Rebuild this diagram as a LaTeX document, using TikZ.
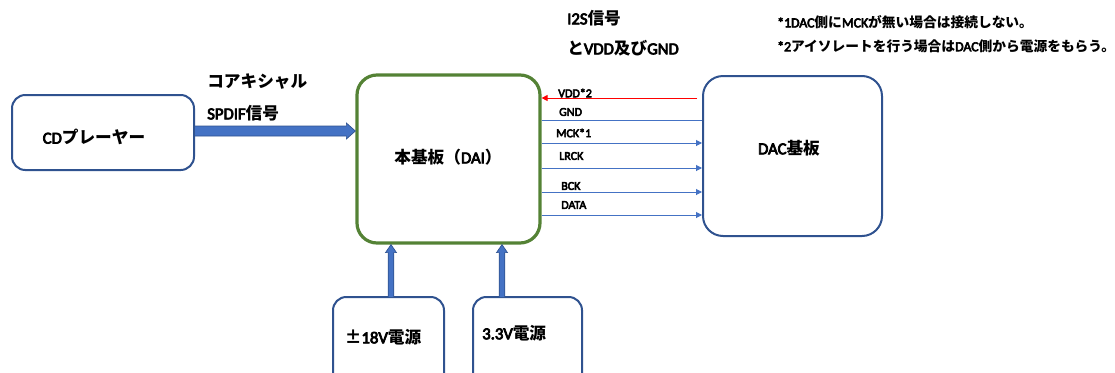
\documentclass[tikz,border=0pt]{standalone}
\usepackage{fontspec}
\setmainfont{Carlito}[BoldFont=Carlito, BoldFeatures={FakeBold=4.5}]
\newfontfamily\jp{Noto Sans CJK JP}
\usetikzlibrary{arrows.meta,calc,fit}
\definecolor{navy}{HTML}{2F528F}
\definecolor{ablue}{HTML}{4472C4}
\definecolor{dgreen}{HTML}{548235}
\begin{document}
\begin{tikzpicture}[x=0.75pt,y=-0.75pt,
 box/.style={draw=navy, line width=1.5pt, rounded corners=10pt, inner sep=0pt},
 greenbox/.style={draw=dgreen, line width=2.4pt, rounded corners=15pt, inner sep=0pt},
 lbl/.style={font=\fontsize{12.5}{15}\selectfont\bfseries, inner sep=0pt},
 sig/.style={font=\fontsize{9}{10}\selectfont\bfseries, anchor=west, inner sep=0pt},
 note/.style={font=\fontsize{10.3}{12}\selectfont\bfseries, anchor=west, inner sep=0pt},
 sline/.style={draw=ablue, line width=0.75pt},
 stip/.style={-{Triangle[length=4.5pt,width=4.5pt]}},
 fat/.style={fill=ablue, draw=navy, line width=0.5pt}]
\useasboundingbox (0,0) rectangle (1115,372);

% boxes
\node[box, fit={(12,95) (194,170)}] (cd) {};
\node[greenbox, fit={(357,75) (540,243)}] (dai) {};
\node[box, rounded corners=15pt, fit={(703,76) (882,236)}] (dac) {};
\node[box, fit={(333,297) (444,395)}] (p18) {};
\node[box, fit={(473,297) (582,395)}] (p33) {};

% box labels
\node[lbl] (cdl) at (94,137) {CD{\jp プレーヤー}};
\node[lbl] (dail) at (448,157) {{\jp 本基板（}DAI{\jp ）}};
\node[lbl] (dacl) at (789,148) {DAC{\jp 基板}};
\node[lbl] (p18l) at (383,337) {{\jp ±}18V{\jp 電源}};
\node[lbl, anchor=west] (p33l) at (482,333) {3.3V{\jp 電源}};

% SPDIF fat arrow
\coordinate (sa) at ($(cd.east)+(0,-1.5)$);
\coordinate (sb) at (sa -| dai.west);
\draw[fat] ($(sa)+(0,-5)$) -- ($(sb)+(-9,-5)$) -- ($(sb)+(-9,-8)$) -- (sb)
  -- ($(sb)+(-9,8)$) -- ($(sb)+(-9,5)$) -- ($(sa)+(0,5)$);
\node[lbl, anchor=west] (coax) at (207,82) {{\jp コアキシャル}};
\node[lbl, anchor=west] (spdif) at (207,113) {SPDIF{\jp 信号}};

% vertical power arrows
\foreach \b/\xx in {p18/391, p33/502}{
  \coordinate (va) at (\xx,297);
  \coordinate (vb) at (va |- dai.south);
  \draw[fat] ($(va)+(-2.8,0)$) -- ($(vb)+(-2.8,8)$) -- ($(vb)+(-5.5,8)$) -- (vb)
    -- ($(vb)+(5.5,8)$) -- ($(vb)+(2.8,8)$) -- ($(va)+(2.8,0)$);
}

% signal lines
\coordinate (y1) at (0,98);
\coordinate (y2) at (0,120);
\coordinate (y3) at (0,143);
\coordinate (y4) at (0,168);
\coordinate (y5) at (0,192);
\coordinate (y6) at (0,215);
\draw[draw=red, line width=0.75pt, stip] ($(dac.west |- y1)+(-5,0)$) -- (dai.east |- y1);
\draw[sline] (dai.east |- y2) -- (dac.west |- y2);
\foreach \y in {y3,y4,y5,y6}{
  \draw[sline, stip] (dai.east |- \y) -- (dac.west |- \y);
}
\node[sig] (l1) at (558,93) {VDD*2};
\node[sig] (l2) at (559,112) {GND};
\node[sig] (l3) at (556,133) {MCK*1};
\node[sig] (l4) at (559,156) {LRCK};
\node[sig] (l5) at (561,186) {BCK};
\node[sig] (l6) at (561,205) {DATA};

% titles and notes
\node[lbl, anchor=west] (i2s) at (567,18) {I2S{\jp 信号}};
\node[lbl, anchor=west] (i2s2) at (567,48) {{\jp と}VDD{\jp 及び}GND};
\node[note] (n1) at (777,22) {*1DAC{\jp 側に}MCK{\jp が無い場合は接続しない。}};
\node[note] (n2) at (777,46) {*2{\jp アイソレートを行う場合は}DAC{\jp 側から電源をもらう。}};
\end{tikzpicture}
\end{document}
